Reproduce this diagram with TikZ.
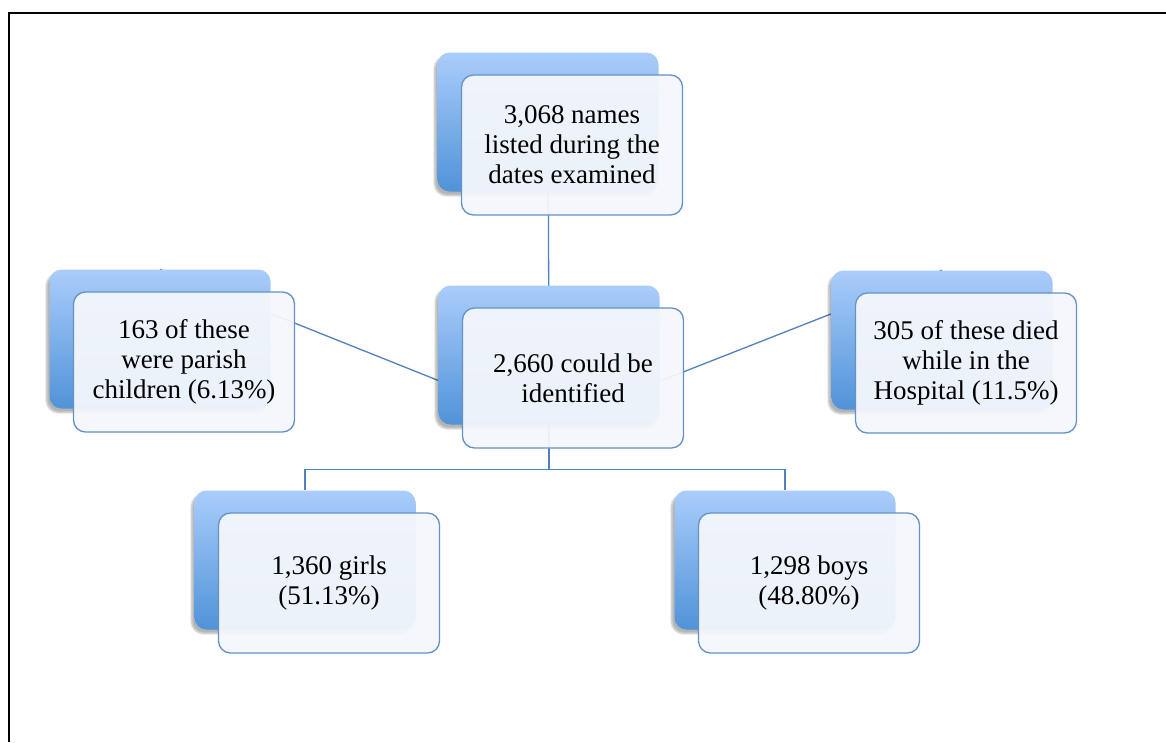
\documentclass[tikz,border=0pt]{standalone}
\usepackage{fontspec}
\setmainfont{Liberation Serif}
\usetikzlibrary{calc}
\usetikzlibrary{backgrounds}
\usetikzlibrary{shadows.blur}

\definecolor{boxTop}{RGB}{170,205,251}
\definecolor{boxBottom}{RGB}{80,147,216}
\definecolor{boxLine}{RGB}{98,146,200}
\definecolor{boxFill}{RGB}{244,247,252}
\definecolor{linkBlue}{RGB}{79,129,189}

\tikzset{
  backbox/.style={rounded corners=12pt, top color=boxTop, bottom color=boxBottom,
    minimum width=221pt, minimum height=139pt, inner sep=0pt,
    blur shadow={shadow xshift=-3pt, shadow yshift=-4pt, shadow opacity=30, shadow blur steps=6}},
  frontbox/.style={rounded corners=12pt, draw=boxLine, line width=1.3pt, fill=boxFill,
    fill opacity=0.95, text opacity=1, minimum width=221pt, minimum height=140pt,
    inner sep=0pt, align=center, font=\fontsize{27}{30}\selectfont},
  link/.style={draw=linkBlue, line width=1.3pt}
}

\begin{document}
\begin{tikzpicture}[x=1pt,y=-1pt]
\useasboundingbox (0,0) rectangle (1166,742);
\draw[line width=1.8pt] (9,742) -- (9,13) -- (1166,13);

\node[backbox] (names) at (548,122) {};
\node[frontbox] (namesT) at ($(names)+(24,23)$) {3,068 names\\listed during the\\dates examined};

\node[backbox] (known) at (549,355) {};
\node[frontbox] (knownT) at ($(known)+(24,23)$) {2,660 could be\\identified};

\node[backbox] (parish) at (160,339) {};
\node[frontbox] (parishT) at ($(parish)+(24,23)$) {163 of these\\were parish\\children (6.13\%)};

\node[backbox] (died) at (942,340) {};
\node[frontbox] (diedT) at ($(died)+(24,23)$) {305 of these died\\while in the\\Hospital (11.5\%)};

\node[backbox] (girls) at (305,560) {};
\node[frontbox] (girlsT) at ($(girls)+(24,23)$) {1,360 girls\\(51.13\%)};

\node[backbox] (boys) at (785,560) {};
\node[frontbox] (boysT) at ($(boys)+(24,23)$) {1,298 boys\\(48.80\%)};

\begin{scope}[on background layer]
  \coordinate (split) at ($(known.south)+(0,45)$);
  \draw[link] (names.center) -- (known.center);
  \draw[link] (parish.north) -- (known.south);
  \draw[link] (died.north) -- (known.south);
  \draw[link] (known.center) -- (split);
  \draw[link] (split) -| (girls.north);
  \draw[link] (split) -| (boys.north);
\end{scope}
\end{tikzpicture}
\end{document}
